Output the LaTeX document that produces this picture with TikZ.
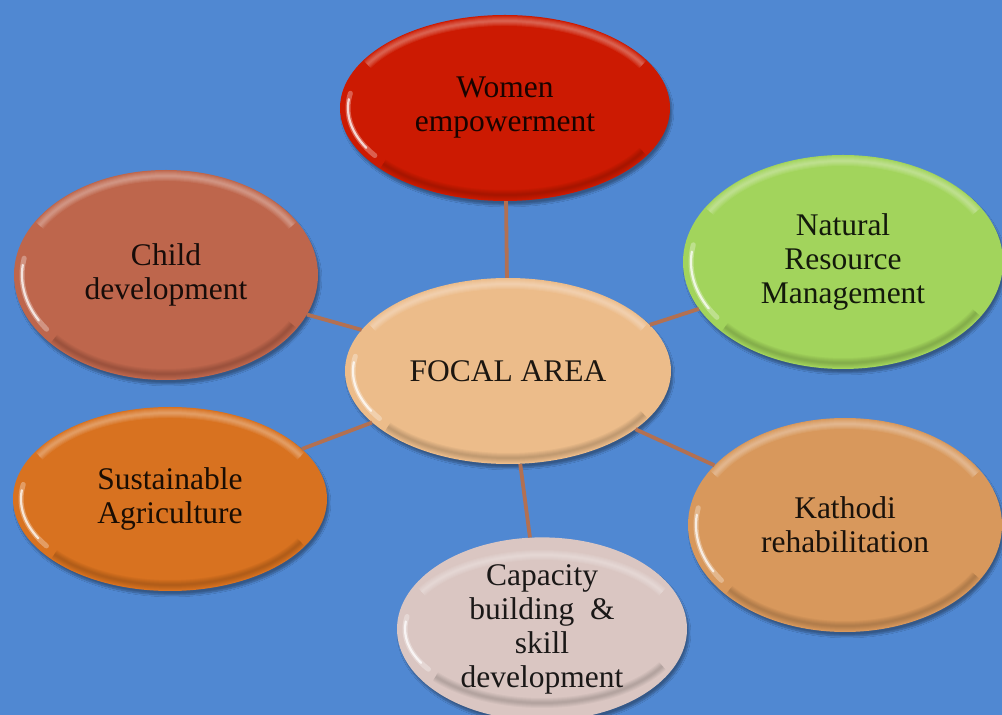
\documentclass[tikz,border=0pt]{standalone}
\usepackage{fontspec}
\setmainfont{Liberation Serif}
\usetikzlibrary{shapes.geometric,shadows.blur}
\definecolor{bgblue}{RGB}{80,136,210}
\definecolor{linkbrown}{RGB}{178,112,82}
\definecolor{cWomen}{RGB}{204,26,2}
\definecolor{cNRM}{RGB}{162,212,92}
\definecolor{cChild}{RGB}{190,102,76}
\definecolor{cFocal}{RGB}{236,188,138}
\definecolor{cSust}{RGB}{216,114,32}
\definecolor{cKath}{RGB}{216,152,92}
\definecolor{cCap}{RGB}{218,198,194}
\begin{document}
\begin{tikzpicture}[x=1pt,y=1pt,
  bubble/.style={ellipse, inner sep=0pt, align=center,
    font=\fontsize{31.5}{34}\selectfont, text=black, text opacity=.88,
    blur shadow={shadow xshift=2pt, shadow yshift=-4pt, shadow blur steps=8, shadow opacity=35}},
  link/.style={linkbrown, line width=3.8pt}]
  % background
  \fill[bgblue] (0,0) rectangle (1002,715);
  \useasboundingbox (0,0) rectangle (1002,715);

  % the hub and its six areas
  \node[bubble, fill=cFocal, minimum width=326pt, minimum height=186pt] (focal) at (508,344) {FOCAL AREA};
  \node[bubble, fill=cWomen, minimum width=330pt, minimum height=186pt] (women) at (505,607) {Women\\empowerment};
  \node[bubble, fill=cNRM, minimum width=320pt, minimum height=214pt] (nrm) at (843,453) {Natural\\Resource\\Management};
  \node[bubble, fill=cChild, minimum width=304pt, minimum height=210pt] (child) at (166,440) {Child\\development};
  \node[bubble, fill=cSust, minimum width=314pt, minimum height=184pt] (sust) at (170,216) {Sustainable\\Agriculture};
  \node[bubble, fill=cKath, minimum width=314pt, minimum height=214pt] (kath) at (845,190) {Kathodi\\rehabilitation};
  \node[bubble, fill=cCap, minimum width=290pt, minimum height=160pt] (cap) at (542,86) {Capacity\\building\ \ \&\\skill\\development};

  % glossy rims: soft light band on top, shade at the bottom, bright streak on the left
  \foreach \n/\rx/\ry in {focal/163/93, women/165/93, nrm/160/107, child/152/105, sust/157/92, kath/157/107, cap/145/80} {
    \foreach \w in {10,8,6,4,2} {
      \draw[white, opacity=.07, line width=\w pt] (\n.center) ++(30:{\rx-6} and {\ry-6})
        arc[start angle=30, end angle=150, x radius=\rx-6, y radius=\ry-6];
      \draw[black, opacity=.035, line width=\w pt] (\n.center) ++(220:{\rx-6} and {\ry-6})
        arc[start angle=220, end angle=330, x radius=\rx-6, y radius=\ry-6];
    }
    \draw[white, opacity=.3, line width=5pt, line cap=round] (\n.center) ++(170:{\rx-8} and {\ry-8})
      arc[start angle=170, end angle=214, x radius=\rx-8, y radius=\ry-8];
    \draw[white, opacity=.75, line width=2.2pt, line cap=round] (\n.center) ++(174:{\rx-8} and {\ry-8})
      arc[start angle=174, end angle=208, x radius=\rx-8, y radius=\ry-8];
  }

  % connectors
  \draw[link] (focal) -- (women);
  \draw[link] (focal) -- (nrm);
  \draw[link] (focal) -- (child);
  \draw[link] (focal) -- (sust);
  \draw[link] (focal) -- (kath);
  \draw[link] (focal) -- (cap);
\end{tikzpicture}
\end{document}
